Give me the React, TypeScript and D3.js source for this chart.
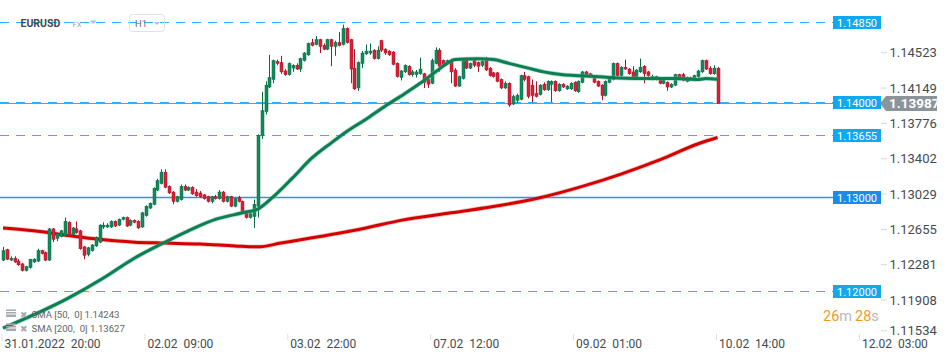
import React from "react";
import * as d3 from "d3";

const W = 950;
const H = 361;

// EURUSD H1 candles, from 31.01 20:00 to 10.02 14:00 (bar index 0..185)
const opens = [
  1.1233, 1.1244, 1.1233, 1.1235, 1.1232, 1.1229, 1.1222, 1.1225, 1.1231, 1.1232,
  1.1243, 1.1241, 1.1233, 1.1266, 1.1256, 1.1258, 1.1259, 1.1273, 1.126, 1.1266,
  1.1264, 1.1247, 1.1239, 1.1243, 1.1248, 1.1252, 1.1268, 1.1268, 1.1268, 1.1274,
  1.127, 1.1276, 1.1278, 1.127, 1.1275, 1.1274, 1.1268, 1.128, 1.1288, 1.1292,
  1.1307, 1.1314, 1.1326, 1.1311, 1.1305, 1.1295, 1.1297, 1.1311, 1.1307, 1.131,
  1.1305, 1.1304, 1.1302, 1.13, 1.1295, 1.13, 1.1298, 1.1305, 1.1295, 1.13,
  1.129, 1.1299, 1.1295, 1.1283, 1.1278, 1.1279, 1.129, 1.1365, 1.139, 1.1416,
  1.1424, 1.1443, 1.1442, 1.1433, 1.1429, 1.1436, 1.1439, 1.1435, 1.1444, 1.145,
  1.1463, 1.1461, 1.1466, 1.146, 1.1456, 1.1466, 1.1459, 1.1463, 1.1461, 1.1478,
  1.1466, 1.1436, 1.1415, 1.1441, 1.1451, 1.1452, 1.1455, 1.1446, 1.1465, 1.1456,
  1.1454, 1.1453, 1.1441, 1.1426, 1.1432, 1.1438, 1.1429, 1.1429, 1.143, 1.143,
  1.1424, 1.142, 1.1441, 1.1455, 1.1444, 1.1441, 1.1444, 1.1434, 1.1417, 1.1425,
  1.1444, 1.1436, 1.1444, 1.1442, 1.1439, 1.1446, 1.1436, 1.1431, 1.1431, 1.1424,
  1.1415, 1.142, 1.1398, 1.1402, 1.1403, 1.1428, 1.1427, 1.1418, 1.1409, 1.1408,
  1.1419, 1.1413, 1.1419, 1.1422, 1.1412, 1.1419, 1.1414, 1.1414, 1.1421, 1.1411,
  1.1421, 1.1432, 1.143, 1.1425, 1.1422, 1.1418, 1.1407, 1.1421, 1.1424, 1.1441,
  1.1428, 1.1437, 1.1435, 1.1432, 1.1426, 1.1432, 1.1438, 1.1432, 1.1425, 1.1424,
  1.1424, 1.142, 1.1421, 1.1416, 1.1418, 1.1429, 1.1429, 1.1422, 1.1426, 1.1424,
  1.1427, 1.1432, 1.1444, 1.1436, 1.143, 1.1436,
];

const highs = [
  1.1247, 1.1245, 1.1237, 1.1237, 1.1234, 1.123, 1.1227, 1.1234, 1.1235, 1.1245,
  1.1244, 1.1242, 1.1267, 1.1267, 1.1262, 1.1265, 1.1278, 1.1274, 1.1268, 1.1274,
  1.1265, 1.1248, 1.1247, 1.125, 1.1258, 1.1271, 1.1273, 1.1272, 1.1275, 1.1275,
  1.1277, 1.1279, 1.1279, 1.1276, 1.1276, 1.1275, 1.1284, 1.1291, 1.1294, 1.131,
  1.1319, 1.1329, 1.1329, 1.1312, 1.1306, 1.1301, 1.1313, 1.1313, 1.1311, 1.1311,
  1.1308, 1.1306, 1.1303, 1.1301, 1.1301, 1.1302, 1.1307, 1.1306, 1.1301, 1.1301,
  1.1299, 1.1301, 1.1296, 1.1285, 1.1283, 1.1297, 1.1366, 1.1411, 1.1422, 1.145,
  1.1445, 1.1445, 1.1449, 1.1435, 1.1442, 1.144, 1.1441, 1.1447, 1.1453, 1.1463,
  1.1467, 1.147, 1.1467, 1.1462, 1.1467, 1.1467, 1.1465, 1.1474, 1.1482, 1.1479,
  1.1467, 1.1456, 1.1443, 1.1454, 1.1461, 1.1462, 1.1456, 1.1459, 1.1466, 1.1457,
  1.1455, 1.1454, 1.1442, 1.1434, 1.144, 1.1439, 1.1434, 1.1434, 1.1447, 1.1431,
  1.1425, 1.1446, 1.1458, 1.1457, 1.1445, 1.1445, 1.1445, 1.1436, 1.1428, 1.1445,
  1.1445, 1.1442, 1.1445, 1.1443, 1.1447, 1.1448, 1.1437, 1.1432, 1.1432, 1.1425,
  1.1422, 1.1421, 1.1408, 1.1409, 1.1429, 1.1432, 1.1428, 1.1424, 1.1422, 1.1419,
  1.1421, 1.1423, 1.1423, 1.1423, 1.142, 1.142, 1.1418, 1.1421, 1.1422, 1.1423,
  1.1433, 1.1433, 1.1431, 1.1426, 1.1423, 1.1419, 1.1423, 1.1427, 1.1442, 1.1442,
  1.1438, 1.1445, 1.1436, 1.1438, 1.1435, 1.1446, 1.1439, 1.1433, 1.1429, 1.1428,
  1.1425, 1.1424, 1.1422, 1.142, 1.143, 1.143, 1.1431, 1.1427, 1.1427, 1.1429,
  1.1434, 1.1445, 1.1445, 1.1438, 1.1439, 1.1437,
];

const lows = [
  1.1232, 1.1233, 1.1232, 1.123, 1.1227, 1.1221, 1.1221, 1.1224, 1.123, 1.1231,
  1.1239, 1.1232, 1.1232, 1.1252, 1.1253, 1.1257, 1.1258, 1.1258, 1.1259, 1.1261,
  1.1244, 1.1234, 1.1237, 1.1242, 1.1247, 1.1251, 1.1266, 1.1267, 1.1267, 1.1268,
  1.1269, 1.1275, 1.1268, 1.1269, 1.1272, 1.1266, 1.1267, 1.1279, 1.1287, 1.1291,
  1.1306, 1.1313, 1.1309, 1.1303, 1.1292, 1.1294, 1.1296, 1.1306, 1.1306, 1.1302,
  1.13, 1.1299, 1.1297, 1.1294, 1.1293, 1.1297, 1.1297, 1.1294, 1.1294, 1.1289,
  1.1289, 1.1294, 1.1284, 1.1277, 1.1277, 1.1267, 1.1278, 1.1361, 1.1387, 1.1415,
  1.142, 1.1439, 1.143, 1.1428, 1.1428, 1.1432, 1.1434, 1.1432, 1.1443, 1.1449,
  1.1459, 1.146, 1.1452, 1.1455, 1.1455, 1.1438, 1.1449, 1.1459, 1.146, 1.1462,
  1.142, 1.1413, 1.1412, 1.1436, 1.145, 1.145, 1.1445, 1.1445, 1.1453, 1.145,
  1.1449, 1.1439, 1.1426, 1.1423, 1.1431, 1.1428, 1.1427, 1.1426, 1.1429, 1.1415,
  1.1415, 1.1419, 1.144, 1.1432, 1.1437, 1.144, 1.142, 1.1416, 1.1416, 1.1424,
  1.1435, 1.1435, 1.1437, 1.1432, 1.1437, 1.1433, 1.1427, 1.1426, 1.1421, 1.1414,
  1.1414, 1.1395, 1.1397, 1.1399, 1.1402, 1.1422, 1.1404, 1.14, 1.1405, 1.1407,
  1.1412, 1.1412, 1.14, 1.1411, 1.1411, 1.1415, 1.1413, 1.1413, 1.1411, 1.141,
  1.142, 1.1427, 1.1426, 1.142, 1.1416, 1.1402, 1.1406, 1.142, 1.1423, 1.1427,
  1.1427, 1.1434, 1.1429, 1.1425, 1.1425, 1.1431, 1.142, 1.1427, 1.1423, 1.1423,
  1.1419, 1.1419, 1.1412, 1.1415, 1.1417, 1.1425, 1.1422, 1.1421, 1.1423, 1.1423,
  1.1426, 1.1431, 1.1434, 1.1429, 1.1429, 1.13987,
];

const closes = [
  1.1243, 1.1234, 1.1235, 1.1231, 1.1228, 1.1222, 1.1226, 1.1234, 1.1234, 1.1243,
  1.124, 1.1233, 1.1266, 1.1255, 1.1261, 1.1264, 1.1274, 1.1259, 1.1267, 1.1262,
  1.1245, 1.1238, 1.1246, 1.1249, 1.1257, 1.127, 1.127, 1.127, 1.1274, 1.1269,
  1.1276, 1.1278, 1.1269, 1.1275, 1.1273, 1.1267, 1.1283, 1.129, 1.1293, 1.1309,
  1.1317, 1.1326, 1.131, 1.1304, 1.1295, 1.13, 1.1311, 1.1307, 1.131, 1.1303,
  1.1301, 1.13, 1.1298, 1.1295, 1.13, 1.1298, 1.1305, 1.1295, 1.13, 1.129,
  1.1298, 1.1295, 1.1285, 1.1278, 1.1282, 1.1292, 1.1365, 1.1391, 1.1418, 1.1426,
  1.1444, 1.1441, 1.1432, 1.1429, 1.1441, 1.1439, 1.1435, 1.1446, 1.1452, 1.1462,
  1.146, 1.1466, 1.1459, 1.1456, 1.1466, 1.1459, 1.1463, 1.146, 1.1478, 1.1463,
  1.1435, 1.1414, 1.1442, 1.1452, 1.1454, 1.1454, 1.1446, 1.1455, 1.1455, 1.1452,
  1.145, 1.144, 1.1427, 1.1433, 1.1439, 1.1429, 1.1432, 1.1432, 1.1435, 1.1421,
  1.1419, 1.1444, 1.1455, 1.1438, 1.1438, 1.1444, 1.1432, 1.1417, 1.1427, 1.1444,
  1.1436, 1.1441, 1.1439, 1.1438, 1.1443, 1.1434, 1.1428, 1.1427, 1.1422, 1.1415,
  1.142, 1.1397, 1.1406, 1.1407, 1.1428, 1.1424, 1.1406, 1.1407, 1.1406, 1.1418,
  1.1413, 1.1422, 1.1422, 1.1412, 1.1419, 1.1416, 1.1417, 1.142, 1.1412, 1.1422,
  1.1432, 1.1428, 1.1427, 1.1421, 1.1417, 1.1407, 1.1422, 1.1425, 1.1441, 1.1428,
  1.1437, 1.1435, 1.143, 1.1426, 1.1434, 1.1437, 1.143, 1.1428, 1.1427, 1.1427,
  1.142, 1.1423, 1.1416, 1.1419, 1.1429, 1.1426, 1.1423, 1.1426, 1.1424, 1.1428,
  1.1433, 1.1444, 1.1435, 1.143, 1.1436, 1.13987,
];

// moving averages, read at selected bars
const sma50Bars = [0, 17, 26, 34, 41, 48, 55, 62, 66, 70, 75, 80, 85, 89, 94, 99, 104, 108, 112, 115, 117, 123, 127, 131, 136, 140, 145, 150, 157, 165, 174, 180, 182, 185];
const sma50Vals = [1.1161, 1.1193, 1.1214, 1.1235, 1.125, 1.1264, 1.1276, 1.1283, 1.1287, 1.13, 1.132, 1.1341, 1.1357, 1.1369, 1.1382, 1.1396, 1.1409, 1.142, 1.1432, 1.1441, 1.1445, 1.1446, 1.1445, 1.1441, 1.1436, 1.1432, 1.1429, 1.1428, 1.1426, 1.1425, 1.1425, 1.1424, 1.1425, 1.14243];
const sma200Bars = [0, 8, 17, 25, 34, 42, 51, 60, 66, 72, 85, 94, 103, 116, 129, 139, 150, 160, 170, 180, 185];
const sma200Vals = [1.1267, 1.1264, 1.1259, 1.1255, 1.1252, 1.1251, 1.125, 1.1248, 1.1247, 1.1251, 1.126, 1.1267, 1.1275, 1.1283, 1.1291, 1.1299, 1.1311, 1.1324, 1.1339, 1.1356, 1.13627];

const yTickVals = [1.14523, 1.14149, 1.13776, 1.13402, 1.13029, 1.12655, 1.12281, 1.11908, 1.11534];
const xTickBars = [0, 37, 74, 111, 148, 185, 222];
const xTickLabels = ["31.01.2022  20:00", "02.02  09:00", "03.02  22:00", "07.02  12:00", "09.02  01:00", "10.02  14:00", "12.02  03:00"];

const levelPrices = [1.1485, 1.14, 1.13655, 1.13, 1.12];
const levelDashed = [true, true, true, false, true];
const lastPrice = 1.13987;

const font = "Roboto, 'Noto Sans', sans-serif";

export default function App() {
  const x = d3.scaleLinear().domain([0, 222]).range([3, 860.4]);
  const y = d3.scaleLinear().domain([1.11534, 1.14523]).range([335.4, 52.7]);

  const sma50Path = d3
    .line<number>()
    .x((d) => x(d))
    .y((_, i) => y(sma50Vals[i]))
    .curve(d3.curveMonotoneX)(sma50Bars);
  const sma200Path = d3
    .line<number>()
    .x((d) => x(d))
    .y((_, i) => y(sma200Vals[i]))
    .curve(d3.curveMonotoneX)(sma200Bars);

  const lastY = y(lastPrice);

  return (
    <svg
      width={W}
      height={H}
      style={{ position: "absolute", left: 0, top: 0, background: "#fff", fontFamily: font }}
    >
      {/* horizontal levels */}
      {levelPrices.map((p, i) => (
        <line
          key={"lv" + i}
          x1={0}
          x2={833}
          y1={Math.round(y(p)) + 0.5}
          y2={Math.round(y(p)) + 0.5}
          stroke={levelDashed[i] ? "#29b6f6" : "#2196f3"}
          strokeWidth={levelDashed[i] ? 1 : 1.4}
          strokeDasharray={levelDashed[i] ? "9,7" : undefined}
        />
      ))}
      {/* last price line */}
      <line x1={0} x2={882} y1={Math.round(lastY) + 0.5} y2={Math.round(lastY) + 0.5} stroke="#8c9296" strokeWidth={1} />

      {/* header */}
      <text x={20.5} y={26.7} fontSize={10.5} fontWeight={700} fill="#3d4b53">EURUSD</text>
      <text x={72.5} y={26.7} fontSize={7.5} fill="#9aa3a8">FX</text>
      <path d="M90,20.5 L96.5,20.5 L93.25,24 Z" fill="#b8bfc4" />
      <rect x={129.5} y={14.5} width={35} height={17} rx={3} fill="none" stroke="#dfe3e6" />
      <text x={135} y={27} fontSize={9.5} fill="#5f6e77">H1</text>
      <path d="M154,22 L160,22 L157,25 Z" fill="#b8bfc4" />

      {/* SMA 200 */}
      <path d={sma200Path || ""} fill="none" stroke="#f08080" strokeOpacity={0.5} strokeWidth={4.5} />
      <path d={sma200Path || ""} fill="none" stroke="#d40000" strokeWidth={3} />

      {/* candles */}
      {closes.map((c, i) => {
        const o = opens[i];
        const up = c >= o;
        const col = up ? "#0f8a5c" : "#d81f35";
        const edge = up ? "#0a6b46" : "#a8152a";
        const cx = Math.round(x(i)) + 0.5;
        const top = Math.min(y(o), y(c));
        const h = Math.max(1, Math.abs(y(o) - y(c)));
        return (
          <g key={"c" + i}>
            <line x1={cx} x2={cx} y1={y(highs[i])} y2={y(lows[i])} stroke={edge} strokeWidth={1} />
            <rect x={cx - 1.5} y={top} width={3} height={h} fill={col} stroke={edge} strokeWidth={0.5} />
          </g>
        );
      })}

      {/* SMA 50 */}
      <path d={sma50Path || ""} fill="none" stroke="#5fb894" strokeOpacity={0.5} strokeWidth={4.5} />
      <path d={sma50Path || ""} fill="none" stroke="#0b7e52" strokeWidth={3} />

      {/* level labels */}
      {levelPrices.map((p, i) => {
        const py = Math.round(y(p)) + 0.5;
        return (
          <g key={"lb" + i}>
            <rect x={833} y={py - 6.5} width={48} height={13} fill={levelDashed[i] ? "#12a8ef" : "#1a8ce8"} />
            <text x={857} y={py + 4} fontSize={11} fill="#fff" textAnchor="middle">
              {p.toFixed(5)}
            </text>
          </g>
        );
      })}

      {/* y axis labels */}
      {yTickVals.map((v, i) => {
        const ty = Math.min(y(v), 330.8);
        return (
          <g key={"yt" + i}>
            <line x1={881} x2={887} y1={ty} y2={ty} stroke="#d5d8da" />
            <text x={889.5} y={ty + 4.5} fontSize={13} fill="#444b50">
              {v.toFixed(5)}
            </text>
          </g>
        );
      })}

      {/* last price tag */}
      <path
        d={`M880,${lastY} L886,${lastY - 7.5} L937,${lastY - 7.5} L937,${lastY + 7.5} L886,${lastY + 7.5} Z`}
        fill="#8a9499"
      />
      <text x={889} y={lastY + 5} fontSize={13.5} fontWeight={700} fill="#fff">
        {lastPrice.toFixed(5)}
      </text>

      {/* x axis */}
      {xTickBars.map((b, i) => (
        <g key={"xt" + i}>
          <line x1={x(b) - 1} x2={x(b) - 1} y1={334} y2={340} stroke="#dcdfe1" />
          <text x={x(b) + 1.5} y={347.5} fontSize={12} fill="#444b50" style={{ whiteSpace: "pre" }}>
            {xTickLabels[i]}
          </text>
        </g>
      ))}

      {/* countdown */}
      <text x={823} y={320.7} fontSize={14.5}>
        <tspan fill="#f59a1b">26</tspan>
        <tspan fill="#b5b9bc">m</tspan>
        <tspan fill="#f59a1b" dx={3}>28</tspan>
        <tspan fill="#b5b9bc">s</tspan>
      </text>

      {/* legend */}
      {["SMA [50,  0] 1.14243", "SMA [200,  0] 1.13627"].map((t, i) => {
        const by = 317.5 + i * 14;
        return (
          <g key={"lg" + i}>
            <rect x={6} y={by - 8} width={10} height={1.5} fill="#a4a9ad" />
            <rect x={6} y={by - 5.5} width={10} height={1.5} fill="#a4a9ad" />
            <rect x={6} y={by - 3} width={10} height={2.5} fill="#a4a9ad" />
            <text x={19.5} y={by} fontSize={9} fill="#a4a9ad">✖</text>
            <text x={31.5} y={by} fontSize={9.6} fill="#5d666b" style={{ whiteSpace: "pre" }}>
              {t}
            </text>
          </g>
        );
      })}
    </svg>
  );
}
